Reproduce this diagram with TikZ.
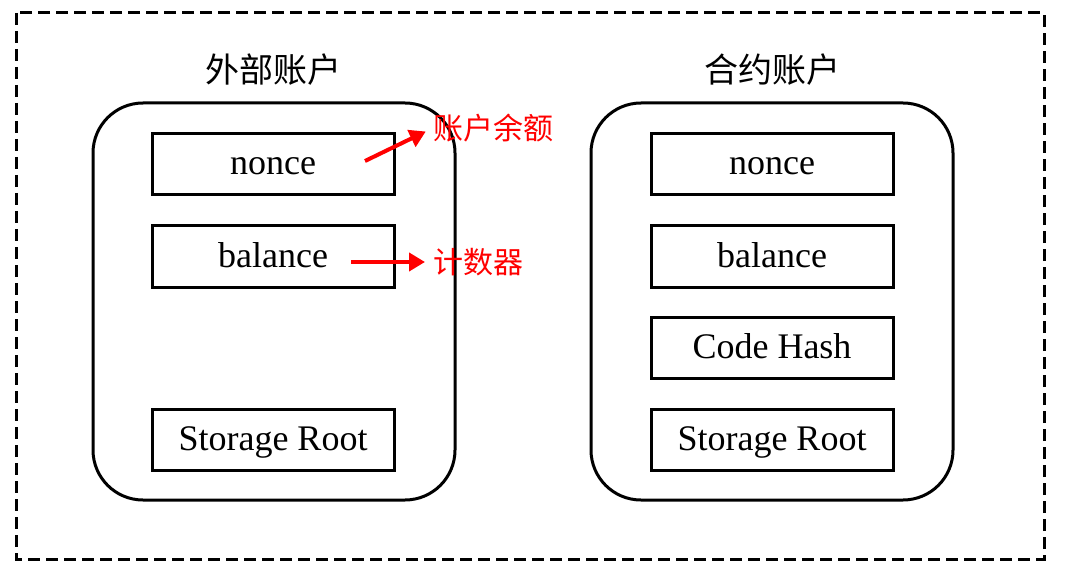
\documentclass[tikz,border=0pt]{standalone}
\usepackage{fontspec}
\setmainfont{Liberation Serif}
\newfontfamily\cjk{Noto Sans CJK SC}
\usetikzlibrary{arrows.meta}
\tikzset{
  field/.style={draw=black, line width=3pt, minimum width=242pt, minimum height=61pt, inner sep=0pt, font=\fontsize{36}{40}\selectfont, text height=26pt, text depth=5pt},
  account/.style={draw=black, line width=3pt, rounded corners=50pt},
  title/.style={font=\cjk\fontsize{34}{38}\selectfont},
  note/.style={font=\cjk\fontsize{30}{34}\selectfont, text=red, anchor=west, inner sep=0pt},
  redarrow/.style={draw=red, line width=4pt, -{Triangle[length=16pt,width=18pt]}, shorten >=8pt},
}
\begin{document}
\begin{tikzpicture}[x=1pt,y=-1pt]
\useasboundingbox (0,0) rectangle (1068,572);
\draw[line width=3pt, dash pattern=on 12pt off 6pt] (16,13) rectangle (1044,559);
% left account
\draw[account] (93,103) rectangle (455,500);
\node[title] (t1) at (273,70) {外部账户};
\node[field] (n1) at (273,164.5) {nonce};
\node[field] (b1) at (273,256.5) {balance};
\node[field] (s1) at (273,439.5) {Storage Root};
% right account
\draw[account] (591,103) rectangle (953,500);
\node[title] (t2) at (772,70) {合约账户};
\node[field] (n2) at (772,164.5) {nonce};
\node[field] (b2) at (772,256.5) {balance};
\node[field] (c2) at (772,347.5) {Code Hash};
\node[field] (s2) at (772,439.5) {Storage Root};
% notes
\node[note] (r1) at (433,128) {账户余额};
\node[note] (r2) at (433,262) {计数器};
\coordinate (a1) at (365,161);
\coordinate (a2) at (351,262);
\draw[redarrow] (a1) -- (r1.west);
\draw[redarrow] (a2) -- (r2.west);
\end{tikzpicture}
\end{document}
